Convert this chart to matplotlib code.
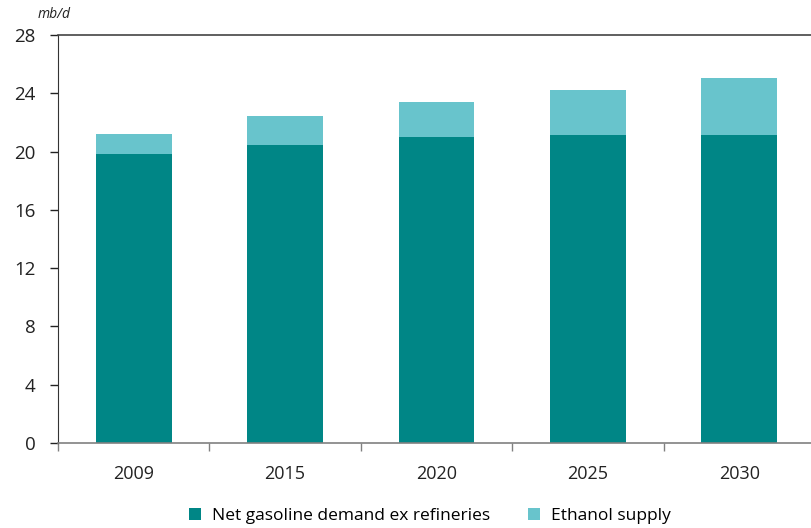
import matplotlib
matplotlib.use("Agg")
import matplotlib.pyplot as plt
from matplotlib.ticker import FixedLocator
import numpy as np

years = ["2009", "2015", "2020", "2025", "2030"]
net_gasoline = [19.8, 20.45, 21.0, 21.15, 21.15]
ethanol = [1.4, 2.0, 2.4, 3.05, 3.9]
y_ticks = [0, 4, 8, 12, 16, 20, 24, 28]

dark_teal = "#008686"
light_teal = "#68C4CC"

plt.rcParams["font.family"] = ["Open Sans", "DejaVu Sans"]

fig = plt.figure(figsize=(8.11, 5.28), dpi=100)
ax = fig.add_axes([58 / 811, 1 - 443 / 528, 757 / 811, 408 / 528])

x = np.arange(len(years))
ax.bar(x, net_gasoline, width=0.5, color=dark_teal, label="Net gasoline demand ex refineries")
ax.bar(x, ethanol, width=0.5, bottom=net_gasoline, color=light_teal, label="Ethanol supply")

ax.set_xlim(-0.5, len(years) - 0.5)
ax.set_ylim(0, 28)
ax.set_yticks(y_ticks)
ax.tick_params(axis="y", labelsize=13.5, length=6, width=1, direction="out", pad=10, colors="#222222")

ax.set_xticks(x)
ax.set_xticklabels(years)
ax.xaxis.set_minor_locator(FixedLocator(np.arange(-0.5, len(years) + 0.5, 1)))
ax.tick_params(axis="x", which="major", length=0, labelsize=13, pad=16, colors="#222222")
ax.tick_params(axis="x", which="minor", length=6, width=1, color="#808080")

ax.spines["right"].set_visible(False)
ax.spines["left"].set_color("#333333")
ax.spines["top"].set_color("#444444")
ax.spines["top"].set_linewidth(1.2)
ax.spines["bottom"].set_color("#808080")
ax.spines["bottom"].set_linewidth(1.2)

fig.text(38 / 811, 1 - 15 / 528, "mb/d", fontsize=10, style="italic", color="#222222", va="center")

fig.legend(loc="center", bbox_to_anchor=(430 / 811, 1 - 516 / 528), ncol=2, frameon=False,
           fontsize=12.5, handlelength=0.7, handleheight=0.7, columnspacing=2.2, handletextpad=0.6)

fig.savefig("out.png", dpi=100)
